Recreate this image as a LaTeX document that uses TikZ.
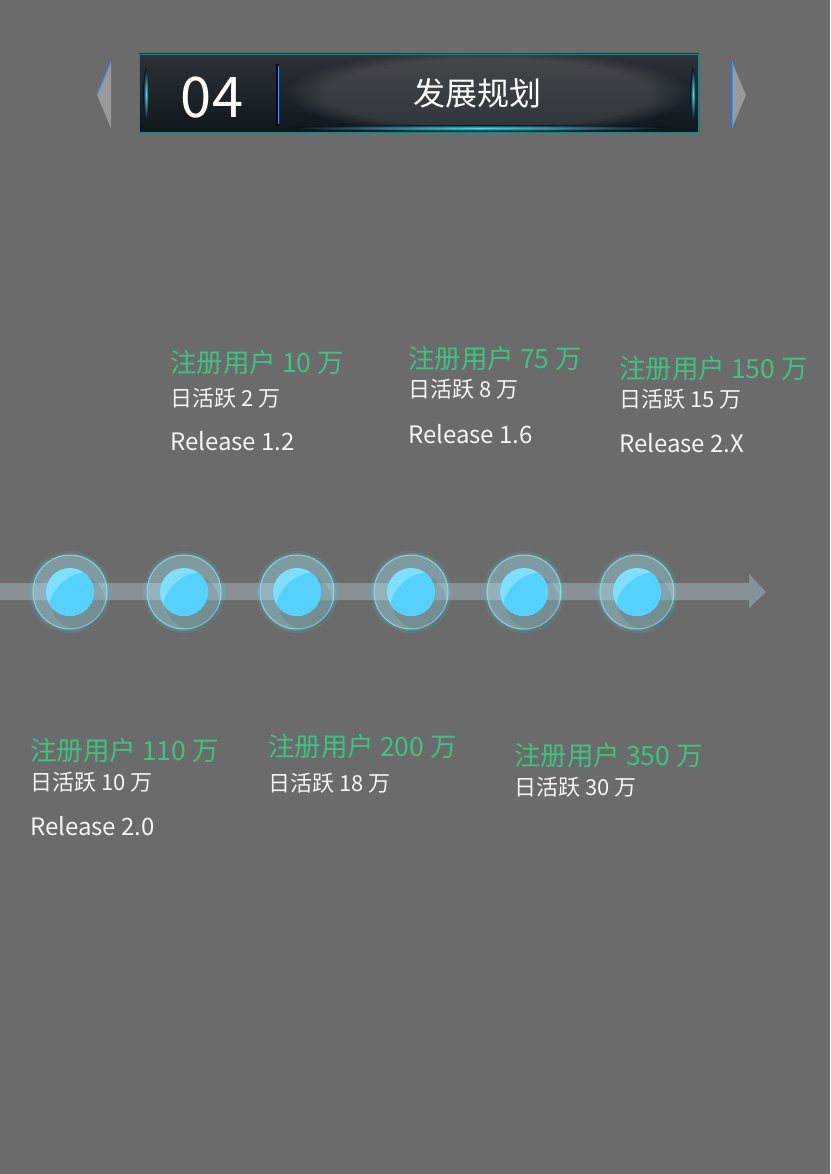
\documentclass[tikz,border=0pt]{standalone}
\usepackage{fontspec}
\setmainfont{Noto Sans CJK SC}
\usetikzlibrary{fadings}
\definecolor{bgc}{HTML}{6B6B6B}
\definecolor{regc}{HTML}{3DC284}
\definecolor{txtc}{HTML}{F4F4F4}
\definecolor{ballc}{HTML}{55D1FF}
\definecolor{ballhi}{HTML}{7EDFFF}
\definecolor{barc}{HTML}{8B979C}
\definecolor{hdtop}{HTML}{2C3237}
\definecolor{hdbot}{HTML}{0F161C}
\definecolor{glowc}{HTML}{3FE0F5}
\begin{document}
\begin{tikzpicture}[x=1pt,y=-1pt,
  reg/.style={anchor=west,inner sep=0pt,text=regc,font=\fontsize{26.5}{30}\selectfont},
  dau/.style={anchor=west,inner sep=0pt,text=txtc,font=\fontsize{22}{26}\selectfont},
  rel/.style={anchor=west,inner sep=0pt,text=txtc,font=\fontsize{24}{28}\selectfont},
  bubble/.style={circle,minimum size=74pt,inner sep=0pt,fill=white,fill opacity=0.2,
    draw=glowc!60!white,draw opacity=0.75,line width=1pt}]
\fill[bgc] (0,0) rectangle (830,1174);
% title bar
\shade[top color=hdtop,bottom color=hdbot] (139,54) rectangle (699,133);
\fill[gray!90,fill opacity=0.25,path fading=circle with fuzzy edge 20 percent]
  (285,50) rectangle (690,136);
\draw[hdtop!60!cyan,line width=1pt] (139.5,54.5) rectangle (698.5,132.5);
\shade[inner color=glowc,outer color=hdbot] (480,128) ellipse (190 and 3);
\shade[inner color=glowc,outer color=hdbot] (146,94) ellipse (2.5 and 26);
\shade[inner color=glowc,outer color=hdbot] (693,94) ellipse (2.5 and 26);
\draw[black,line width=3pt] (277,64) -- (277,126);
\draw[glowc!70!blue,line width=1pt] (278,66) -- (278,124);
\fill[gray!80] (111,62) -- (97,95) -- (111,128) -- cycle;
\draw[ballc!70!blue,line width=1pt] (111,62) -- (97,95);
\fill[gray!80] (732,62) -- (746,95) -- (732,128) -- cycle;
\draw[ballc!70!blue,line width=1pt] (732,62) -- (732,128);
\node[text=white,inner sep=0pt,font=\fontsize{56}{60}\selectfont] (num) at (212,98) {04};
\node[text=white,inner sep=0pt,font=\fontsize{32}{36}\selectfont] (title) at (477,93) {发展规划};
% timeline
\fill[barc,opacity=0.9] (0,583) -- (749,583) -- (749,574) -- (766,592)
  -- (749,608) -- (749,600) -- (0,600) -- cycle;
\foreach \x [count=\i] in {70,184,297,411,524,637} {
  \fill[glowc,opacity=0.1] (\x,592) circle (41);
  \fill[glowc,opacity=0.12] (\x,592) circle (39);
  \node[bubble] (b\i) at (\x,592) {};
  \fill[black,opacity=0.08] ([shift={(8,10)}]b\i.center) circle (27);
  \begin{scope}
    \clip (b\i.center) circle (24);
    \fill[ballhi] (b\i.center) circle (24);
    \fill[ballc] ([shift={(20,22)}]b\i.center) circle (42);
  \end{scope}
}
% milestones above
\node[reg] (r1) at (170,362) {注册用户 10 万};
\node[dau] (d1) at (170,398) {日活跃 2 万};
\node[rel] (v1) at (170,441) {Release 1.2};
\node[reg] (r2) at (408,358) {注册用户 75 万};
\node[dau] (d2) at (408,389) {日活跃 8 万};
\node[rel] (v2) at (408,434) {Release 1.6};
\node[reg] (r3) at (619,368) {注册用户 150 万};
\node[dau] (d3) at (619,399) {日活跃 15 万};
\node[rel] (v3) at (619,443) {Release 2.X};
% milestones below
\node[reg] (r4) at (30,750) {注册用户 110 万};
\node[dau] (d4) at (30,782) {日活跃 10 万};
\node[rel] (v4) at (30,826) {Release 2.0};
\node[reg] (r5) at (268,746) {注册用户 200 万};
\node[dau] (d5) at (268,783) {日活跃 18 万};
\node[reg] (r6) at (514,755) {注册用户 350 万};
\node[dau] (d6) at (514,787) {日活跃 30 万};
\end{tikzpicture}
\end{document}
